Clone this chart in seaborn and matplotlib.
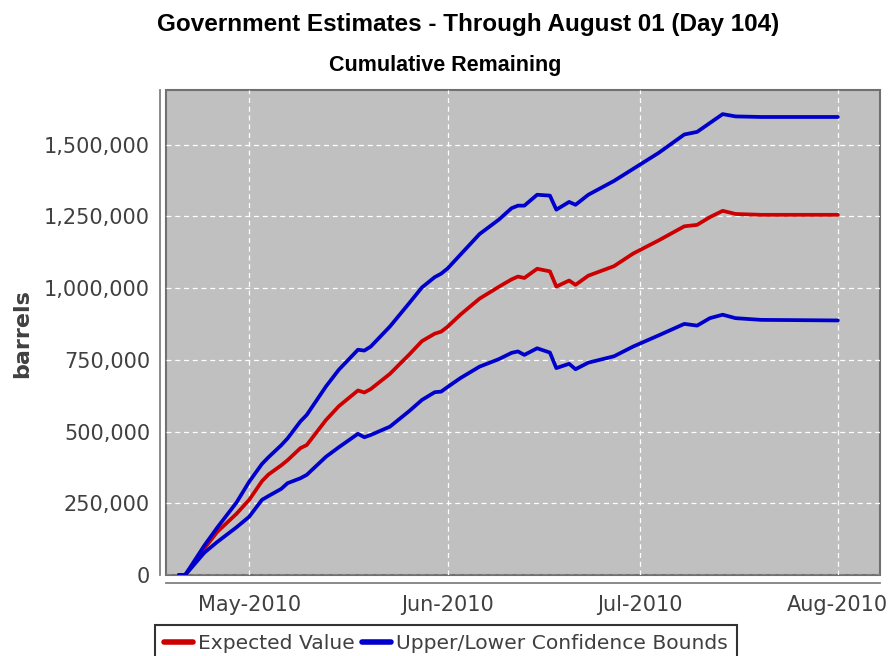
import numpy as np
import pandas as pd
import matplotlib
matplotlib.use('Agg')
import matplotlib.pyplot as plt
import matplotlib.dates as mdates
from matplotlib.ticker import FuncFormatter
import seaborn as sns

# days after April 20, 2010 at which the curves were read
day_offsets = [0, 1, 4, 6, 9, 11, 13, 14, 16, 17, 19, 20, 23, 25, 28, 29, 30,
               33, 36, 38, 40, 41, 42, 44, 47, 50, 52, 53, 54, 56, 58, 59, 61,
               62, 64, 68, 71, 75, 79, 81, 83, 85, 87, 91, 103]

expected = [0, 0, 93000, 150000, 213000, 262000, 327000, 350000, 382000,
            400000, 442000, 453000, 540000, 588000, 643000, 636000, 648000,
            701000, 768000, 815000, 841000, 848000, 865000, 907000, 963000,
            1004000, 1030000, 1040000, 1035000, 1067000, 1058000, 1005000,
            1026000, 1011000, 1043000, 1076000, 1120000, 1166000, 1215000,
            1220000, 1247000, 1269000, 1258000, 1255000, 1255000]

upper = [0, 0, 103000, 165000, 252000, 325000, 387000, 410000, 452000,
         476000, 535000, 558000, 657000, 715000, 785000, 782000, 796000,
         866000, 947000, 1002000, 1038000, 1050000, 1068000, 1116000,
         1188000, 1238000, 1278000, 1287000, 1287000, 1325000, 1322000,
         1273000, 1300000, 1290000, 1325000, 1373000, 1415000, 1471000,
         1535000, 1544000, 1575000, 1606000, 1598000, 1596000, 1596000]

lower = [0, 0, 78000, 115000, 166000, 203000, 262000, 275000, 300000,
         320000, 337000, 349000, 412000, 445000, 492000, 480000, 488000,
         517000, 571000, 610000, 637000, 639000, 655000, 686000, 726000,
         752000, 774000, 779000, 767000, 790000, 775000, 721000, 736000,
         717000, 740000, 762000, 796000, 835000, 875000, 869000, 895000,
         907000, 895000, 889000, 887000]

start = pd.Timestamp('2010-04-20')
df = pd.DataFrame({
    'date': start + pd.to_timedelta(day_offsets, unit='D'),
    'expected': expected,
    'upper': upper,
    'lower': lower,
})

sns.set_style('white')
plt.rcParams['font.family'] = ['DejaVu Sans']

red = '#cc0000'
blue = '#0000cc'
text_col = '#404040'

fig = plt.figure(figsize=(8.93, 6.56), dpi=100)
ax = fig.add_axes([166 / 893, 1 - 575 / 656, 714 / 893, 485 / 656])
ax.set_facecolor('#c0c0c0')

sns.lineplot(data=df, x='date', y='expected', color=red, lw=2.7, ax=ax,
             label='Expected Value')
sns.lineplot(data=df, x='date', y='upper', color=blue, lw=2.7, ax=ax,
             label='Upper/Lower Confidence Bounds')
sns.lineplot(data=df, x='date', y='lower', color=blue, lw=2.7, ax=ax)

ax.set_xlim(pd.Timestamp('2010-04-18'), pd.Timestamp('2010-08-07 14:00'))
ax.set_ylim(0, 1690000)
ax.xaxis.set_major_locator(mdates.MonthLocator())
ax.xaxis.set_major_formatter(mdates.DateFormatter('%b-%Y'))
ax.set_yticks([0, 250000, 500000, 750000, 1000000, 1250000, 1500000])
ax.yaxis.set_major_formatter(FuncFormatter(lambda v, p: f'{v:,.0f}'))

ax.grid(True, color='white', ls=(0, (4, 3)), lw=0.9)
ax.set_axisbelow(True)

# panel border and detached axis lines
ax.patch.set_edgecolor('#707070')
ax.patch.set_linewidth(1.5)
for side in ['top', 'right']:
    ax.spines[side].set_visible(False)
ax.spines['left'].set_position(('outward', 4.5))
ax.spines['bottom'].set_position(('outward', 5.5))
for side in ['left', 'bottom']:
    ax.spines[side].set_color('#808080')
    ax.spines[side].set_linewidth(1.3)
ax.tick_params(axis='both', direction='out', length=5, width=1,
               color='#808080', labelsize=15, labelcolor=text_col, pad=2)
ax.tick_params(axis='x', pad=4)

ax.set_xlabel('')
ax.set_ylabel('')
fig.text(22 / 893, 1 - 334 / 656, 'barrels', rotation=90, ha='center',
         va='center', fontsize=16, fontweight='bold', color=text_col)

fig.text(468 / 893, 1 - 24 / 656,
         'Government Estimates - Through August 01 (Day 104)',
         ha='center', va='center', fontsize=17.5, fontweight='bold',
         family='Liberation Sans', color='black')
fig.text(445 / 893, 1 - 65 / 656, 'Cumulative Remaining', ha='center',
         va='center', fontsize=15.5, fontweight='bold',
         family='Liberation Sans', color='black')

leg = ax.legend(loc='upper left', bbox_to_anchor=(155 / 893, 1 - 625 / 656),
                bbox_transform=fig.transFigure, ncol=2, frameon=True,
                fancybox=False, fontsize=14.6, handlelength=1.4,
                handletextpad=0.25, columnspacing=0.4, borderpad=0.45,
                borderaxespad=0)
leg.get_frame().set_edgecolor('black')
leg.get_frame().set_linewidth(1.5)
for t in leg.get_texts():
    t.set_color(text_col)
for h in leg.get_lines():
    h.set_linewidth(4)

fig.savefig('out.png', dpi=100)
